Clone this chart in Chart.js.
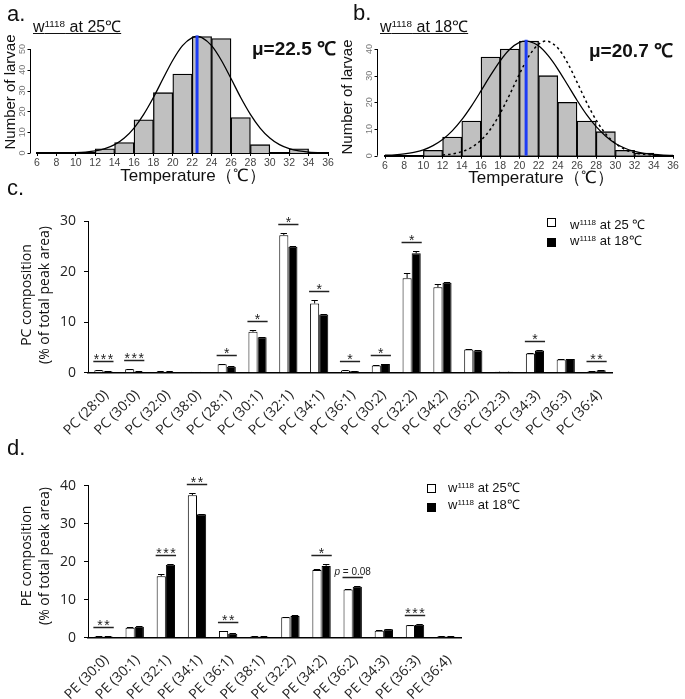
<!DOCTYPE html>
<html><head><meta charset="utf-8">
<script src="https://cdn.jsdelivr.net/npm/chart.js@4.4.1/dist/chart.umd.min.js"></script>
<style>
body{margin:0;width:685px;height:699px;position:relative;background:#fff;overflow:hidden;font-family:"Liberation Sans",Arial,sans-serif;color:#111;}
canvas{position:absolute;}
.t{position:absolute;white-space:nowrap;line-height:1;}
.sq{position:absolute;width:9px;height:9px;box-sizing:border-box;border:1px solid #000;}
sup{font-size:0.62em;vertical-align:0.5em;line-height:0;}
.rot{position:absolute;transform:rotate(-90deg);text-align:center;white-space:nowrap;}
</style></head><body>
<canvas id="ca" width="340" height="170" style="left:0;top:0"></canvas>
<canvas id="cb" width="345" height="170" style="left:340px;top:0"></canvas>
<canvas id="cc" width="685" height="250" style="left:0;top:190px"></canvas>
<canvas id="cd" width="685" height="259" style="left:0;top:440px"></canvas>

<div class="t" style="left:7px;top:3px;font-size:22px">a.</div>
<div class="t" style="left:353px;top:2px;font-size:22px">b.</div>
<div class="t" style="left:7px;top:177px;font-size:22px">c.</div>
<div class="t" style="left:7px;top:437px;font-size:22px">d.</div>

<div class="t" style="left:33px;top:19px;font-size:16px;text-decoration:underline">w<sup>1118</sup> at 25℃</div>
<div class="t" style="left:380px;top:19px;font-size:16px;text-decoration:underline">w<sup>1118</sup> at 18℃</div>
<div class="t" style="left:252px;top:39px;font-size:19px;font-weight:bold">μ=22.5 ℃</div>
<div class="t" style="left:589px;top:41px;font-size:19px;font-weight:bold">μ=20.7 ℃</div>
<div class="t" style="left:93px;top:167px;width:200px;text-align:center;font-size:17px">Temperature（℃）</div>
<div class="t" style="left:441px;top:169px;width:200px;text-align:center;font-size:17px">Temperature（℃）</div>
<div class="rot" style="left:-65px;top:83px;width:150px;height:18px;line-height:18px;font-size:15px">Number of larvae</div>
<div class="rot" style="left:272px;top:88px;width:150px;height:18px;line-height:18px;font-size:15px">Number of larvae</div>

<div class="rot" style="left:-65px;top:277px;width:200px;height:36px;line-height:18px;font-size:14px;font-family:'Open Sans',sans-serif">PC composition<br>(% of total peak area)</div>
<div class="rot" style="left:-65px;top:538px;width:200px;height:36px;line-height:18px;font-size:14px;font-family:'Open Sans',sans-serif">PE composition<br>(% of total peak area)</div>

<div class="sq" style="left:547px;top:218px;background:#fff"></div>
<div class="sq" style="left:547px;top:238px;background:#000"></div>
<div class="t" style="left:570px;top:218px;font-size:13px">w<sup>1118</sup> at 25 ℃</div>
<div class="t" style="left:570px;top:234px;font-size:13px">w<sup>1118</sup> at 18℃</div>
<div class="sq" style="left:427px;top:484px;background:#fff"></div>
<div class="sq" style="left:427px;top:503px;background:#000"></div>
<div class="t" style="left:448px;top:481px;font-size:13px">w<sup>1118</sup> at 25℃</div>
<div class="t" style="left:448px;top:498px;font-size:13px">w<sup>1118</sup> at 18℃</div>

<script>
// ---------- data ----------
const tempTicks = [6,8,10,12,14,16,18,20,22,24,26,28,30,32,34,36];
const binCenters = [7,9,11,13,15,17,19,21,23,25,27,29,31,33,35];
const counts25 = [0,0,0,2,5,16,29,38,56,55,17,4,0,2,0];
const counts18 = [0,0,2,7,13,37,40,43,30,20,13,9,2,1,0];
const yTicks25 = [0,10,20,30,40,50];
const yTicks18 = [0,10,20,30,40];
const mu25 = 22.5, mu18 = 20.7;
const muTop25 = 56.5, muTop18 = 43.5;
const fit25X = [6,8,10,11,12,13,14,15,16,17,18,19,20,21,22,22.5,23,24,25,26,27,28,29,30,31,32,33,34,36];
const fit25Y = [0,0.05,0.2,0.45,1.0,2.1,4.0,7.2,12,18.6,26.7,35.8,44.6,51.6,55.5,56,55.5,51.6,44.6,35.8,26.7,18.6,12,7.2,4.0,2.1,1.0,0.45,0.05];
const fit18X = [6,7,8,9,10,11,12,13,14,15,16,17,18,19,20,20.7,21,22,23,24,25,26,27,28,29,30,31,32,33,34,35,36];
const fit18Y = [0.16,0.34,0.67,1.25,2.2,3.8,6.1,9.3,13.5,18.6,24.3,30.2,35.6,39.9,42.5,43,42.9,41.2,37.5,32.5,26.7,20.8,15.4,10.9,7.3,4.6,2.8,1.6,0.86,0.45,0.22,0.1];
const ref25X = [12,13,14,15,16,17,18,19,20,21,22,22.8,23,24,25,26,27,28,29,30,31,32,33,34];
const ref25Y = [0.28,0.67,1.5,3.1,5.8,10.0,15.9,23.0,30.6,37.4,41.8,43,42.9,40.4,34.9,27.6,20.0,13.3,8.1,4.6,2.3,1.1,0.5,0.2];

const pcLabels = ["PC (28:0)","PC (30:0)","PC (32:0)","PC (38:0)","PC (28:1)","PC (30:1)","PC (32:1)","PC (34:1)","PC (36:1)","PC (30:2)","PC (32:2)","PC (34:2)","PC (36:2)","PC (32:3)","PC (34:3)","PC (36:3)","PC (36:4)"];
const pc25 = [0.5,0.66,0.2,0.15,1.65,8.1,27.2,13.7,0.45,1.4,18.7,16.9,4.6,0.2,3.8,2.6,0.27];
const pc18 = [0.3,0.26,0.2,0.15,1.2,7.0,24.9,11.5,0.27,1.7,23.6,17.8,4.4,0.2,4.4,2.7,0.46];
const pc25err = [0.1,0.1,0.05,0.05,0.1,0.35,0.35,0.7,0.05,0.1,1.1,0.6,0.1,0.03,0.1,0.1,0.05];
const pc18err = [0.05,0.05,0.05,0.05,0.1,0.1,0.2,0.2,0.05,0.1,0.5,0.1,0.1,0.03,0.1,0.1,0.05];
const pcSig = ["***","***","","","*","*","*","*","*","*","*","","","","*","","**"];
const pcTicks = [0,10,20,30];

const peLabels = ["PE (30:0)","PE (30:1)","PE (32:1)","PE (34:1)","PE (36:1)","PE (38:1)","PE (32:2)","PE (34:2)","PE (36:2)","PE (34:3)","PE (36:3)","PE (36:4)"];
const pe25 = [0.3,2.6,16.2,37.5,1.75,0.3,5.35,17.8,12.7,1.85,3.25,0.3];
const pe18 = [0.3,2.9,19.2,32.5,1.05,0.3,5.7,18.9,13.4,2.2,3.4,0.3];
const pe25err = [0.05,0.2,0.45,0.55,0.1,0.05,0.15,0.2,0.2,0.1,0.15,0.05];
const pe18err = [0.05,0.1,0.2,0.15,0.1,0.05,0.15,0.5,0.2,0.1,0.15,0.05];
const peSig = ["**","","***","**","**","","","*","p = 0.08","","***",""];
const peTicks = [0,10,20,30,40];

// ---------- plugins ----------
const FS = '"Liberation Sans", Arial, sans-serif';
const FO = '"Open Sans", sans-serif';

const rAxis = {
  id:'raxis',
  afterDraw(chart, args, o){
    const ctx = chart.ctx, y = chart.scales.y, ax = Math.round(chart.chartArea.left - o.gap) + 0.5;
    ctx.save();
    ctx.strokeStyle = '#000'; ctx.lineWidth = 1;
    ctx.beginPath();
    ctx.moveTo(ax, y.getPixelForValue(o.ticks[0]));
    ctx.lineTo(ax, y.getPixelForValue(o.ticks[o.ticks.length-1]));
    o.ticks.forEach(v => { const p = Math.round(y.getPixelForValue(v)) + 0.5; ctx.moveTo(ax, p); ctx.lineTo(ax - 3, p); });
    ctx.stroke();
    ctx.fillStyle = '#777'; ctx.font = '9px ' + FS; ctx.textAlign = 'center'; ctx.textBaseline = 'middle';
    o.ticks.forEach(v => {
      ctx.save(); ctx.translate(ax - 8, y.getPixelForValue(v)); ctx.rotate(-Math.PI/2);
      ctx.fillText(String(v), 0, 0); ctx.restore();
    });
    ctx.restore();
  }
};

const errSig = {
  id:'errsig',
  afterDatasetsDraw(chart, args, o){
    const ctx = chart.ctx, y = chart.scales.y;
    ctx.save();
    ctx.strokeStyle = '#000'; ctx.lineWidth = 1;
    [0,1].forEach(di => {
      const ds = chart.data.datasets[di], meta = chart.getDatasetMeta(di);
      meta.data.forEach((bar, i) => {
        const e = ds.errors[i]; if (!e) return;
        const top = Math.round(y.getPixelForValue(ds.data[i] + e)) + 0.5;
        const base = y.getPixelForValue(ds.data[i]);
        const hw = bar.width * 0.35;
        ctx.beginPath();
        ctx.moveTo(bar.x, base); ctx.lineTo(bar.x, top);
        ctx.moveTo(bar.x - hw, top); ctx.lineTo(bar.x + hw, top);
        ctx.stroke();
      });
    });
    const d0 = chart.data.datasets[0], d1 = chart.data.datasets[1];
    const m0 = chart.getDatasetMeta(0), m1 = chart.getDatasetMeta(1);
    o.marks.forEach((mk, i) => {
      if (!mk) return;
      const b0 = m0.data[i], b1 = m1.data[i];
      const topV = Math.max(d0.data[i] + d0.errors[i], d1.data[i] + d1.errors[i]);
      const ly = Math.round(y.getPixelForValue(topV) - 9) + 0.5;
      const x0 = b0.x - b0.width/2 - 1, x1 = b1.x + b1.width/2 + 1;
      ctx.strokeStyle = '#222'; ctx.lineWidth = 1.5;
      ctx.beginPath(); ctx.moveTo(x0, ly); ctx.lineTo(x1, ly); ctx.stroke();
      const cx = (x0 + x1) / 2;
      ctx.fillStyle = '#222'; ctx.textBaseline = 'alphabetic';
      if (mk.charAt(0) === 'p') {
        ctx.font = 'italic 10px ' + FS;
        const wp = ctx.measureText('p').width;
        ctx.font = '10px ' + FS;
        const rest = mk.slice(1);
        const wr = ctx.measureText(rest).width;
        const sx = cx - (wp + wr)/2;
        ctx.textAlign = 'left';
        ctx.font = 'italic 10px ' + FS; ctx.fillText('p', sx, ly - 3);
        ctx.font = '10px ' + FS; ctx.fillText(rest, sx + wp, ly - 3);
      } else {
        ctx.font = '14px ' + FS; ctx.textAlign = 'center';
        const n = mk.length;
        for (let k = 0; k < n; k++) ctx.fillText('*', cx + (k - (n-1)/2) * 7, ly + 2);
      }
    });
    ctx.restore();
  }
};

// ---------- histograms ----------
function histChart(id, counts, fitX, fitY, mu, muTop, yMax, yTicks, pad, xH, gap, refX, refY){
  const ds = [
    {type:'line', data:[{x:mu,y:0},{x:mu,y:muTop}], borderColor:'#1d3cf5', borderWidth:3, pointRadius:0, order:0},
    {type:'line', data:fitX.map((x,i)=>({x, y:fitY[i]})), borderColor:'#000', borderWidth:1.3, pointRadius:0, tension:0.4, cubicInterpolationMode:'monotone', order:1}
  ];
  if (refX) ds.push({type:'line', data:refX.map((x,i)=>({x, y:refY[i]})), borderColor:'#000', borderWidth:1.5, borderDash:[2.5,3], pointRadius:0, cubicInterpolationMode:'monotone', order:1});
  ds.push({type:'bar', data:binCenters.map((x,i)=>({x, y:counts[i]})), backgroundColor:'#c0c0c0', borderColor:'#000', borderWidth:1.3, barPercentage:1, categoryPercentage:1, order:3});
  new Chart(document.getElementById(id), {
    type:'bar',
    data:{datasets:ds},
    options:{
      responsive:false, animation:false, devicePixelRatio:1,
      layout:{padding:pad},
      plugins:{legend:{display:false}, tooltip:{enabled:false}, raxis:{ticks:yTicks, gap:gap}},
      scales:{
        x:{type:'linear', min:6, max:36, offset:false,
           afterBuildTicks:s=>{ s.ticks = tempTicks.map(v=>({value:v})); },
           grid:{display:true, offset:false, drawOnChartArea:false, drawTicks:true, tickLength:3, color:'#000'},
           border:{display:true, color:'#000', width:2},
           ticks:{font:{size:10.5, family:FS}, color:'#444', padding:1, maxRotation:0, autoSkip:false},
           afterFit:s=>{ s.height = xH; }},
        y:{display:false, min:0, max:yMax}
      }
    },
    plugins:[rAxis]
  });
}
histChart('ca', counts25, fit25X, fit25Y, mu25, muTop25, 60, yTicks25, {left:37, right:12, top:28.2, bottom:0}, 17, 7);
histChart('cb', counts18, fit18X, fit18Y, mu18, muTop18, 48, yTicks18, {left:45, right:12, top:27.7, bottom:0}, 14.3, 8, ref25X, ref25Y);

// ---------- lipid bar charts ----------
function lipidChart(id, labels, a, b, ea, eb, marks, yMax, yTicks, pad, xH){
  new Chart(document.getElementById(id), {
    type:'bar',
    data:{labels, datasets:[
      {label:'25', data:a, errors:ea, backgroundColor:'#fff', borderColor:'#000', borderWidth:1, borderSkipped:'bottom'},
      {label:'18', data:b, errors:eb, backgroundColor:'#000', borderColor:'#000', borderWidth:1}
    ]},
    options:{
      responsive:false, animation:false, devicePixelRatio:1,
      layout:{padding:pad},
      datasets:{bar:{categoryPercentage:0.59, barPercentage:1}},
      plugins:{legend:{display:false}, tooltip:{enabled:false}, errsig:{marks}},
      scales:{
        x:{grid:{display:false, drawTicks:false}, border:{display:true, color:'#000', width:1.5},
           ticks:{font:{size:14, family:FO}, color:'#222', minRotation:45, maxRotation:45, padding:14, labelOffset:3, autoSkip:false},
           afterFit:s=>{ s.height = xH; }},
        y:{min:0, max:yMax,
           afterBuildTicks:s=>{ s.ticks = yTicks.map(v=>({value:v})); },
           grid:{display:true, drawOnChartArea:false, drawTicks:true, tickLength:4, color:'#000'},
           border:{display:true, color:'#000', width:1},
           ticks:{font:{size:14, family:FO}, color:'#222', padding:8},
           afterFit:s=>{ s.width = 88; }}
      }
    },
    plugins:[errSig]
  });
}
lipidChart('cc', pcLabels, pc25, pc18, pc25err, pc18err, pcSig, 30, pcTicks, {left:0, right:73, top:31, bottom:0}, 67.3);
lipidChart('cd', peLabels, pe25, pe18, pe25err, pe18err, peSig, 40, peTicks, {left:0, right:223.3, top:45.7, bottom:0}, 61.3);
</script>
</body></html>
